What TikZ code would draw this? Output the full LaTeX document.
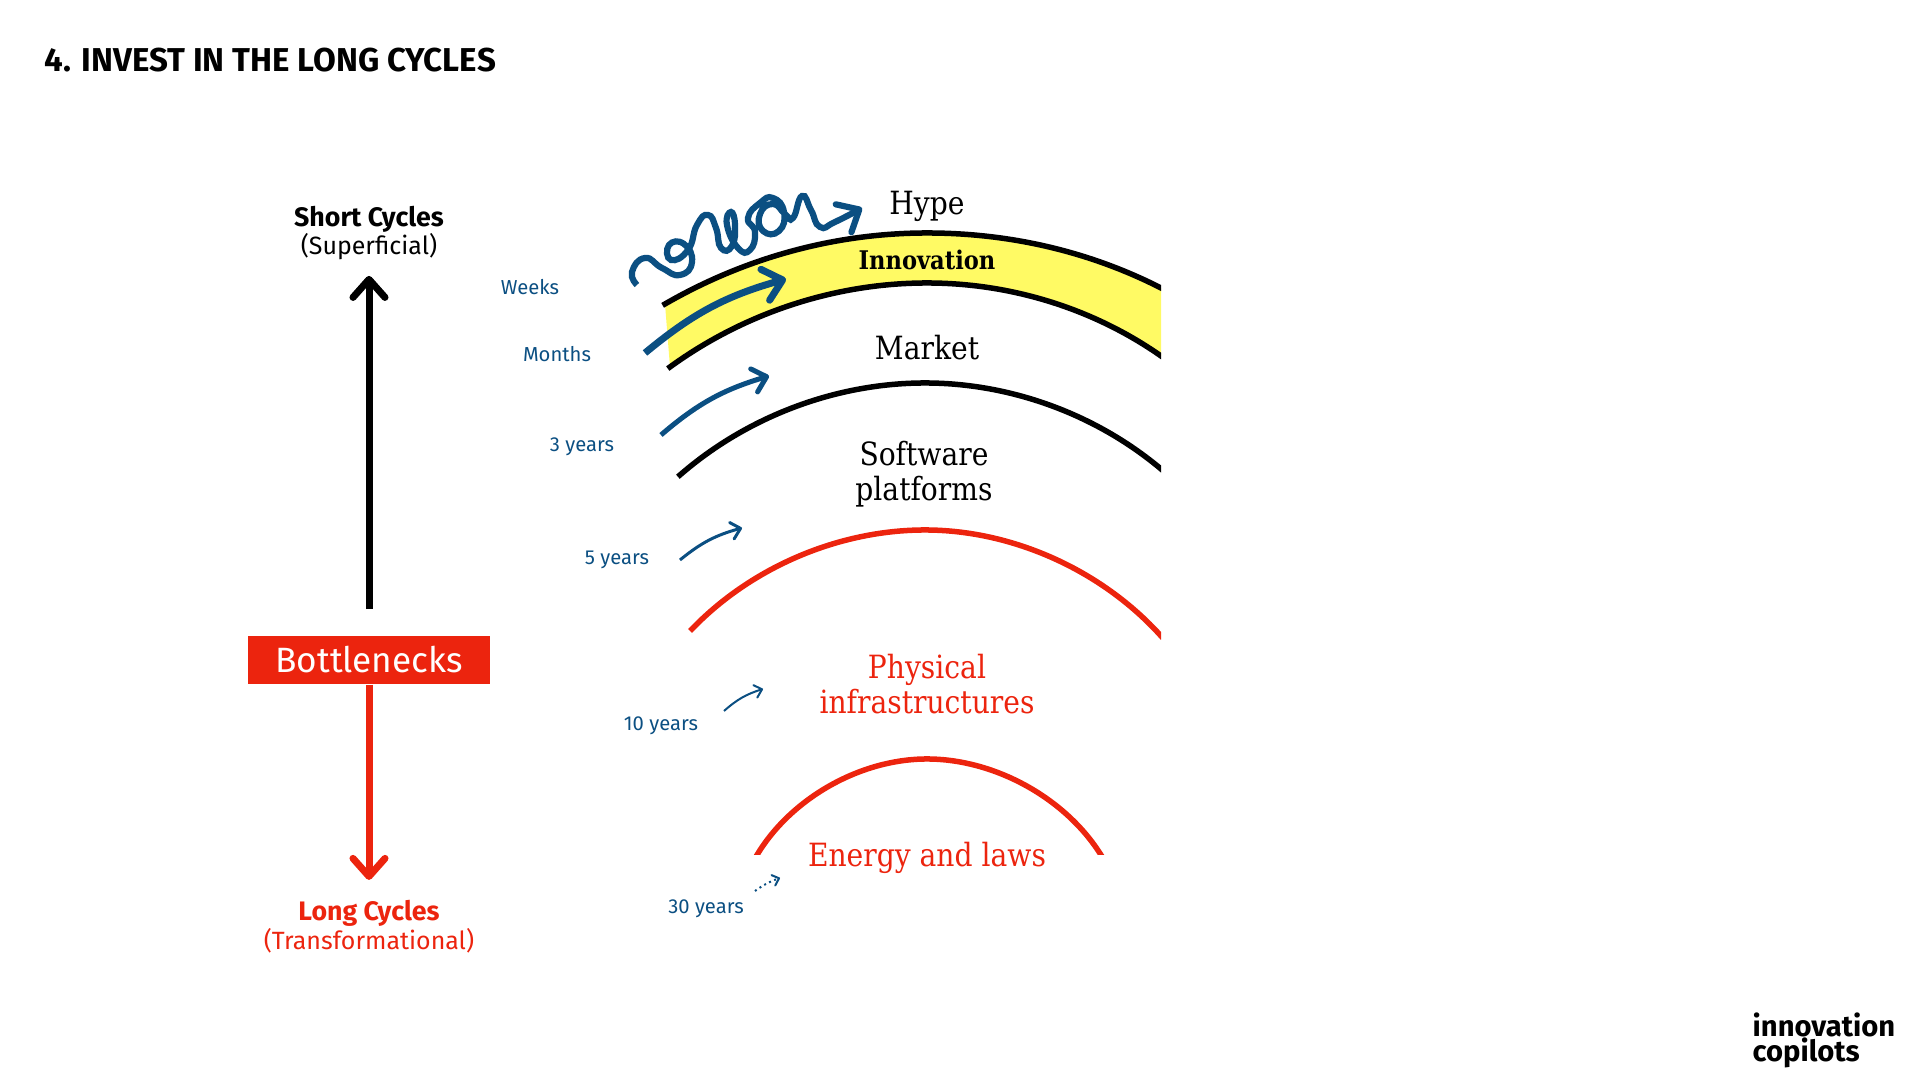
\documentclass[tikz,border=0pt]{standalone}
\usepackage{fontspec}
\setmainfont{Fira Sans}
\newfontfamily\slabfont{DejaVu Serif}[FakeStretch=0.88]
\definecolor{cycleblue}{RGB}{11,79,130}
\definecolor{cyclered}{RGB}{236,36,14}
\definecolor{cycleyellow}{RGB}{255,250,100}
\usetikzlibrary{arrows.meta,positioning}

\begin{document}
\begin{tikzpicture}[x=0.01cm, y=0.01cm, inner sep=0pt, line cap=butt,
  >={Straight Barb[length=1.8mm, width=3.2mm, round]},
  title/.style={font=\fontsize{9.4}{11}\selectfont\bfseries, anchor=west},
  cyclelabel/.style={font=\fontsize{7.1}{8.2}\selectfont, align=center},
  layerlabel/.style={font=\fontsize{9.1}{9.8}\slabfont\selectfont, align=center},
  timelabel/.style={font=\fontsize{5.75}{7}\selectfont, text=cycleblue},
  layerline/.style={line width=0.055cm, looseness=0.87, line cap=rect},
  timearrow/.style={->, draw=cycleblue}]

\useasboundingbox (0,0) rectangle (1920,1080);

\node[title] (heading) at (44,1020) {4. INVEST IN THE LONG CYCLES};

% left scale
\node[cyclelabel] (short) at (369,847) {\textbf{\fontsize{7.6}{8.2}\selectfont Short Cycles}\\(Superficial)};
\node[fill=cyclered, text=white, minimum width=2.42cm, minimum height=0.48cm,
  font=\fontsize{10}{11}\selectfont] (bottle) at (369,420) {Bottlenecks};
\node[cyclelabel, text=cyclered] (long) at (369,153) {\textbf{\fontsize{7.6}{8.2}\selectfont Long Cycles}\\(Transformational)};

\draw[->, line width=0.07cm, shorten <=0.26cm, shorten >=0.15cm] (bottle) -- (short);
\draw[->, line width=0.07cm, draw=cyclered, shorten >=0.2cm] (bottle) -- (long);

% layers
\coordinate (innoTopL) at (665,776);
\coordinate (innoTopA) at (927,847);
\coordinate (innoTopR) at (1161,792);
\coordinate (innoLowL) at (670,713);
\coordinate (innoLowA) at (927,797);
\coordinate (innoLowR) at (1161,724);
\coordinate (softL) at (680,605);
\coordinate (softA) at (925,697);
\coordinate (softR) at (1161,611);
\coordinate (physL) at (692,451);
\coordinate (physA) at (925,550);
\coordinate (physR) at (1161,444);
\coordinate (enerL) at (757,225);
\coordinate (enerA) at (927,321);
\coordinate (enerR) at (1101,225);

\begin{scope}
\clip (0,225) rectangle (1161,1080);
\fill[cycleyellow, looseness=0.87] (innoTopL) to[out=30,in=180] (innoTopA) to[out=0,in=153] (innoTopR)
  -- (innoLowR) to[out=145,in=0] (innoLowA) to[out=180,in=36] (innoLowL) -- cycle;
\draw[layerline] (innoTopL) to[out=30,in=180] (innoTopA) to[out=0,in=153] (innoTopR);
\draw[layerline] (innoLowL) to[out=36,in=180] (innoLowA) to[out=0,in=145] (innoLowR);
\draw[layerline] (softL) to[out=41,in=180] (softA) to[out=0,in=140] (softR);
\draw[layerline, cyclered] (physL) to[out=46,in=180] (physA) to[out=0,in=132] (physR);
\draw[layerline, cyclered] (enerL) to[out=59,in=180] (enerA) to[out=0,in=122] (enerR);
\end{scope}

\node[layerlabel] (hype) at (927,874) {Hype};
\node[layerlabel, font=\fontsize{7.3}{8}\slabfont\bfseries\selectfont] (inno) at (927,820) {Innovation};
\node[layerlabel] (market) at (927,732) {Market};
\node[layerlabel] (soft) at (924,606) {Software\\platforms};
\node[layerlabel, text=cyclered] (phys) at (927,396) {Physical\\infrastructures};
\node[layerlabel, text=cyclered] (ener) at (927,222) {Energy and laws};

% time labels
\node[timelabel] (weeks) at (530,793) {Weeks};
\node[timelabel] (months) at (557,726) {Months};
\node[timelabel] (three) at (582,633) {3 years};
\node[timelabel] (five) at (617,520) {5 years};
\node[timelabel] (ten) at (661,354) {10 years};
\node[timelabel] (thirty) at (706,171) {30 years};

\coordinate (hypeA) at (637,795);
\coordinate (hypeB) at (862,872);
\coordinate (monthsA) at (645,727);
\coordinate (monthsB) at (786,801);
\coordinate (threeA) at (661,645);
\coordinate (threeB) at (769,704);
\coordinate (fiveA) at (680,520);
\coordinate (fiveB) at (742,552);
\coordinate (tenA) at (724,369);
\coordinate (tenB) at (763,391);
\coordinate (thirtyA) at (755,189);
\coordinate (thirtyB) at (780,202);

\draw[timearrow, line width=0.062cm] plot[smooth, tension=0.9] coordinates {(hypeA) (632,808) (645,822) (662,812) (680,805)
  (692,818) (684,836) (669,835) (671,820) (688,830) (697,855) (708,865) (716,852) (721,832) (732,834) (735,855)
  (731,868) (727,855) (738,832) (750,830) (755,848) (748,862) (760,877) (773,882) (784,868) (779,849) (763,849)
  (760,866) (773,876) (785,866) (793,862) (802,884) (811,870) (820,853) (835,858) (hypeB)};
\draw[timearrow, line width=0.07cm] (monthsA) to[bend left=12] (monthsB);
\draw[timearrow, line width=0.05cm, >={Straight Barb[length=1.3mm, width=2.4mm, round]}] (threeA) to[bend left=12] (threeB);
\draw[timearrow, line width=0.03cm, >={Straight Barb[length=0.9mm, width=1.7mm, round]}] (fiveA) to[bend left=12] (fiveB);
\draw[timearrow, line width=0.02cm, >={Straight Barb[length=0.7mm, width=1.3mm, round]}] (tenA) to[bend left=12] (tenB);
\draw[timearrow, line width=0.02cm, densely dotted, >={Straight Barb[length=0.6mm, width=1.1mm, round]}] (thirtyA) to[bend left=8] (thirtyB);

\node[font=\fontsize{8.3}{6.6}\selectfont\bfseries, align=left, anchor=west] (logo) at (1752,40) {innovation\\[-0.8pt]copilots};

\end{tikzpicture}
\end{document}
